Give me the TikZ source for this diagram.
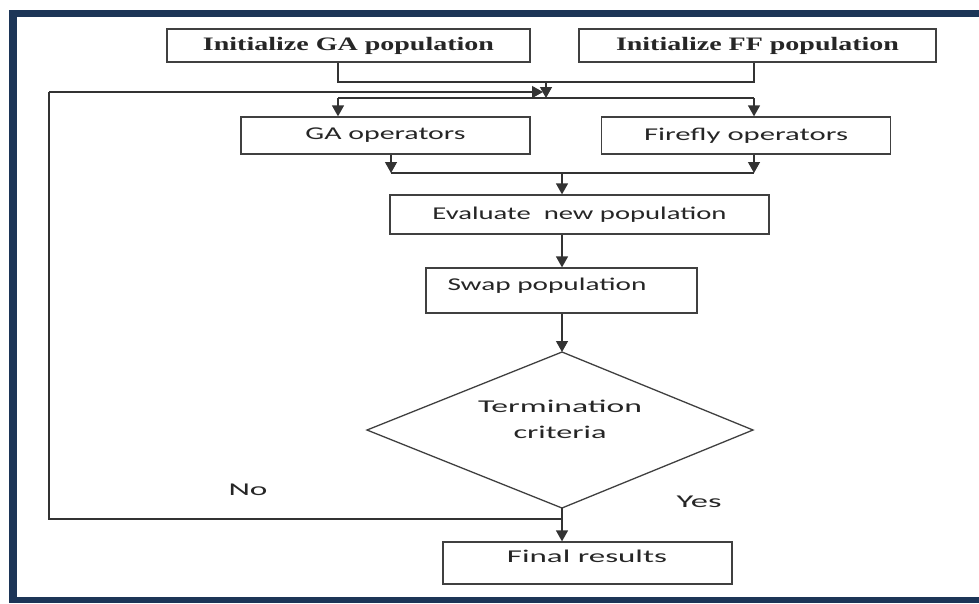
\documentclass[tikz,border=0pt]{standalone}
\usepackage{fontspec}
\usepackage{graphicx}
\setmainfont{Liberation Serif}
\newfontfamily\calfont{Carlito}
\usetikzlibrary{arrows.meta}
\definecolor{navy}{HTML}{1C3557}
\definecolor{ink}{HTML}{262626}
\newcommand\wt[2]{\resizebox{#1pt}{\height}{#2}}
\tikzset{
  box/.style={draw=black!75, line width=1.3pt, fill=white, inner sep=0pt},
  serif/.style={font=\fontsize{19}{22}\selectfont\bfseries, text=black!85},
  sans/.style={font=\calfont\fontsize{18}{21}\selectfont, text=ink},
  link/.style={draw=black!80, line width=1.3pt},
  arr/.style={link, -{Triangle[width=12pt,length=11pt]}}
}
\begin{document}
\begin{tikzpicture}[x=1pt,y=-1pt]
\useasboundingbox (0,0) rectangle (979,603);
\fill[white] (0,0) rectangle (979,603);
% frame
\fill[navy] (9,10) rectangle (979,17);
\fill[navy] (9,10) rectangle (17,603);
\fill[navy] (9,597) rectangle (979,603);

% boxes
\node[box, serif, minimum width=363pt, minimum height=33pt] (iga) at (348.5,45.5) {\wt{291}{Initialize GA population}};
\node[box, serif, minimum width=357pt, minimum height=33pt] (iff) at (757.5,45.5) {\wt{283}{Initialize FF population}};
\node[box, sans, minimum width=289pt, minimum height=37pt] (gaop) at (385.5,135.5) {\wt{160}{GA operators}};
\node[box, sans, minimum width=289pt, minimum height=37pt] (ffop) at (746,135.5) {\wt{204}{Firefly operators}};
\node[box, sans, minimum width=379pt, minimum height=39pt] (eval) at (579.5,214.5) {\wt{294}{Evaluate\ \ new population}};
\node[box, minimum width=271pt, minimum height=45pt] (swap) at (561.5,290.5) {};
\node[sans] (swaptxt) at (547,286) {\wt{199}{Swap population}};
\node[box, minimum width=289pt, minimum height=42pt] (final) at (587.5,563) {};
\node[sans] (finaltxt) at (587,556) {\wt{160}{Final results}};

% diamond
\coordinate (dtop) at (562,352);
\coordinate (dleft) at (367,430);
\coordinate (dright) at (753,430);
\coordinate (dbot) at (562,508);
\draw[box] (dtop) -- (dright) -- (dbot) -- (dleft) -- cycle;
\node[sans] (term) at (560,406) {\wt{164}{Termination}};
\node[sans] (crit) at (560,432) {\wt{93}{criteria}};

% labels
\node[sans] (no) at (248,490) {\wt{39}{No}};
\node[sans] (yes) at (699,502) {\wt{45}{Yes}};

% junction coordinates
\coordinate (j1) at (338,82);
\coordinate (j2) at (754,82);
\coordinate (jm) at (546,82);
\coordinate (jd) at (546,98);
\coordinate (d1) at (338,98);
\coordinate (d2) at (754,98);
\coordinate (c1) at (391,173);
\coordinate (c2) at (754,173);
\coordinate (cm) at (562,173);
\coordinate (lb) at (562,519);
\coordinate (ll) at (49,519);
\coordinate (lt) at (49,92);
\coordinate (la) at (543,92);

% connectors
\draw[link] (j1 |- iga.south) -- (j1) -- (j2) -- (j2 |- iff.south);
\draw[arr] (jm) -- (jd);
\draw[link] (d1) -- (d2);
\draw[arr] (d1) -- (d1 |- gaop.north);
\draw[arr] (d2) -- (d2 |- ffop.north);
\draw[arr] (c1 |- gaop.south) -- (c1);
\draw[arr] (c2 |- ffop.south) -- (c2);
\draw[link] (c1) -- (c2);
\draw[arr] (cm) -- (cm |- eval.north);
\draw[arr] (cm |- eval.south) -- (cm |- swap.north);
\draw[arr] (cm |- swap.south) -- (dtop);
\draw[arr] (dbot) -- (dbot |- final.north);
\draw[link] (lb) -- (ll) -- (lt);
\draw[arr] (lt) -- (la);
\end{tikzpicture}
\end{document}
